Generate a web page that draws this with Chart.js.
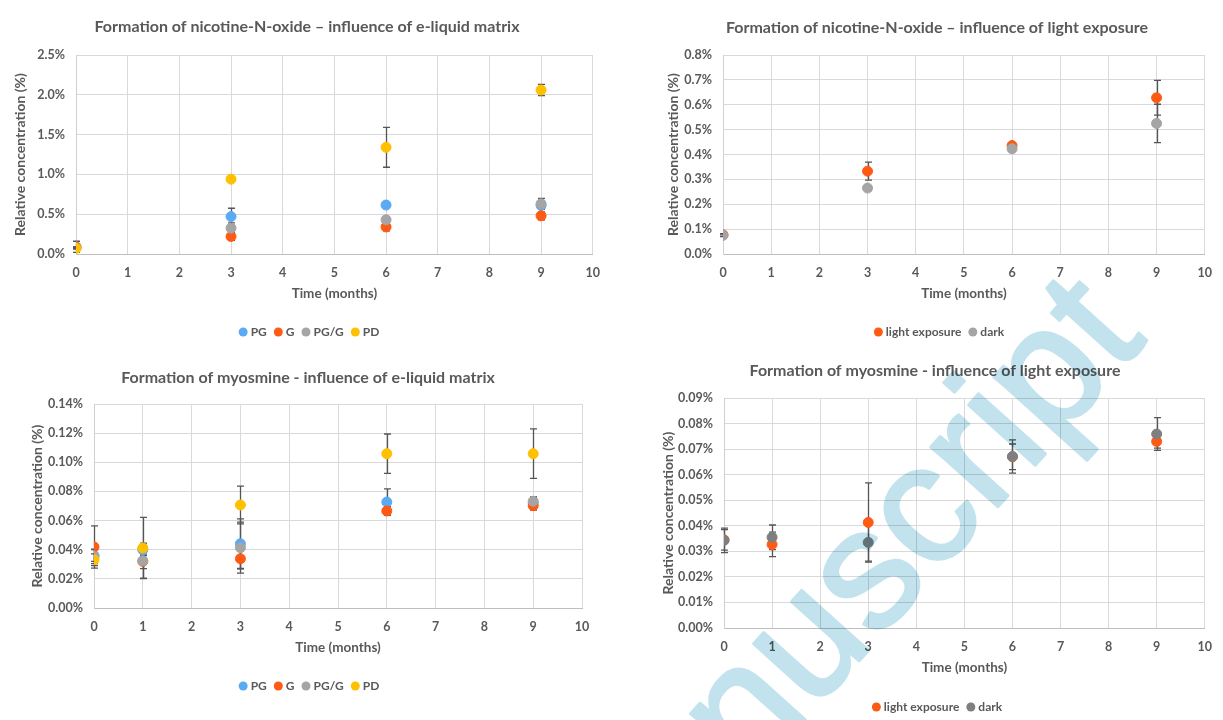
<!DOCTYPE html>
<html>
<head>
<meta charset="utf-8">
<script src="https://cdn.jsdelivr.net/npm/chart.js@4.4.1/dist/chart.umd.min.js"></script>
<style>
  html, body { margin: 0; padding: 0; background: #fff; }
  #page { position: relative; width: 1223px; height: 720px; overflow: hidden; background: #fff; }
  .panel { position: absolute; }
  #mark { position: absolute; left: 0; top: 0; mix-blend-mode: multiply; pointer-events: none; }
</style>
</head>
<body>
<div id="page">
  <canvas id="c1" class="panel" width="611" height="360" style="left:0px;top:0px"></canvas>
  <canvas id="c2" class="panel" width="570" height="360" style="left:653px;top:0px"></canvas>
  <canvas id="c3" class="panel" width="594" height="370" style="left:17px;top:350px"></canvas>
  <canvas id="c4" class="panel" width="575" height="370" style="left:648px;top:350px"></canvas>
  <canvas id="mark" width="1223" height="720"></canvas>
</div>
<script>
// ---- sampling times (months) ----
const monthsNNO = [0, 3, 6, 9];
const monthsMyo = [0, 1, 3, 6, 9];

// ---- nicotine-N-oxide, e-liquid matrix (% relative concentration, mean and SD) ----
const nnoPG      = [0.08, 0.47, 0.615, 0.61];
const nnoG       = [0.09, 0.22, 0.34, 0.48];
const nnoPGG     = [0.08, 0.325, 0.43, 0.63];
const nnoPD      = [0.07, 0.94, 1.34, 2.06];
const nnoPGErr   = [0.01, 0.105, 0.02, 0.03];
const nnoGErr    = [0.07, 0.05, 0.05, 0.05];
const nnoPGGErr  = [0.01, 0.065, 0.02, 0.07];
const nnoPDErr   = [0.01, 0.01, 0.25, 0.07];

// ---- nicotine-N-oxide, light exposure ----
const nnoLight    = [0.077, 0.333, 0.436, 0.628];
const nnoDark     = [0.075, 0.265, 0.423, 0.525];
const nnoLightErr = [0.005, 0.036, 0.01, 0.07];
const nnoDarkErr  = [0.005, 0.01, 0.01, 0.077];

// ---- myosmine, e-liquid matrix ----
const myoPG      = [0.036, 0.040, 0.0441, 0.0727, 0.072];
const myoG       = [0.0419, 0.032, 0.0338, 0.0666, 0.0702];
const myoPGG     = [0.0354, 0.0325, 0.0414, null, 0.0732];
const myoPD      = [0.0331, 0.0412, 0.0707, 0.1059, 0.1059];
const myoPGErr   = [0.004, 0.004, 0.017, 0.009, 0.004];
const myoGErr    = [0.0145, 0.005, 0.007, 0.003, 0.003];
const myoPGGErr  = [0.005, 0.012, 0.0175, null, 0.003];
const myoPDErr   = [0.004, 0.021, 0.013, 0.0135, 0.017];

// ---- myosmine, light exposure ----
const myoLight    = [0.0345, 0.0327, 0.0413, 0.067, 0.073];
const myoDark     = [0.0343, 0.0355, 0.0335, 0.0671, 0.0759];
const myoLightErr = [0.004, 0.0048, 0.0155, 0.005, 0.0026];
const myoDarkErr  = [0.0048, 0.0048, 0.0073, 0.0065, 0.0064];

// ---- labels ----
const matrixLabels = ['PG', 'G', 'PG/G', 'PD'];
const lightLabels  = ['light exposure', 'dark'];
const chartTitles = [
  'Formation of nicotine-N-oxide \u2013 influence of e-liquid matrix',
  'Formation of nicotine-N-oxide \u2013 influence of light exposure',
  'Formation of myosmine - influence of e-liquid matrix',
  'Formation of myosmine - influence of light exposure'
];
const xTitle = 'Time (months)';
const yTitle = 'Relative concentration (%)';

// ---- styling ----
const TEXT = '#595959';
const C_PG = '#5aaaf4', C_G = '#ff5a14', C_PGG = '#a5a5a5', C_PD = '#ffc000', C_DARK2 = '#7f7f7f';
Chart.defaults.font.family = 'Lato';
Chart.defaults.color = TEXT;

function points(xs, ys, errs) {
  return xs.map((m, i) => ({ x: m, y: ys[i], err: errs[i] })).filter(p => p.y !== null);
}

function series(label, xs, ys, errs, color, order) {
  return {
    label, order,
    data: points(xs, ys, errs),
    backgroundColor: color, borderColor: color,
    pointRadius: 5, pointHoverRadius: 5, borderWidth: 1, showLine: false
  };
}

// vertical error bars with caps, drawn underneath the markers
const errorBars = {
  id: 'errorBars',
  beforeDatasetsDraw(chart) {
    const { ctx, scales: { x, y } } = chart;
    ctx.save();
    ctx.strokeStyle = '#555555';
    ctx.lineWidth = 1.3;
    chart.data.datasets.forEach((ds, i) => {
      if (!chart.isDatasetVisible(i)) return;
      ds.data.forEach(p => {
        if (p.err == null) return;
        const px = Math.round(x.getPixelForValue(p.x)) + 0.5;
        const t = y.getPixelForValue(p.y + p.err);
        const b = y.getPixelForValue(p.y - p.err);
        ctx.beginPath();
        ctx.moveTo(px, t); ctx.lineTo(px, b);
        ctx.moveTo(px - 3.5, t); ctx.lineTo(px + 3.5, t);
        ctx.moveTo(px - 3.5, b); ctx.lineTo(px + 3.5, b);
        ctx.stroke();
      });
    });
    ctx.restore();
  }
};

// chart title and bottom legend
const panelText = {
  id: 'panelText',
  afterDraw(chart, args, opts) {
    const ctx = chart.ctx;
    ctx.save();
    ctx.fillStyle = TEXT;
    ctx.textBaseline = 'middle';
    ctx.textAlign = 'center';
    ctx.font = 'bold 16px Lato';
    ctx.fillText(opts.title, opts.titleX, opts.titleY);

    ctx.font = 'bold 12px Lato';
    ctx.textAlign = 'left';
    const r = 4.5, gap = 3, itemGap = 7;
    const items = chart.data.datasets.map(d => ({
      label: d.label, color: d.backgroundColor, w: ctx.measureText(d.label).width
    }));
    const total = items.reduce((s, it) => s + 2 * r + gap + it.w, 0) + itemGap * (items.length - 1);
    let cx = opts.legendX - total / 2;
    items.forEach(it => {
      ctx.fillStyle = it.color;
      ctx.beginPath();
      ctx.arc(cx + r, opts.legendY, r, 0, Math.PI * 2);
      ctx.fill();
      ctx.fillStyle = TEXT;
      ctx.fillText(it.label, cx + 2 * r + gap, opts.legendY + 0.5);
      cx += 2 * r + gap + it.w + itemGap;
    });
    ctx.restore();
  }
};

function makePanel(id, datasets, yMax, yStep, decimals, geo) {
  return new Chart(document.getElementById(id), {
    type: 'scatter',
    data: { datasets },
    plugins: [errorBars, panelText],
    options: {
      responsive: false,
      animation: false,
      devicePixelRatio: 1,
      layout: { padding: geo.padding },
      plugins: {
        legend: { display: false },
        title: { display: false },
        tooltip: { enabled: false },
        panelText: {
          title: geo.title, titleX: geo.titleX, titleY: geo.titleY,
          legendX: geo.legendX, legendY: geo.legendY
        }
      },
      scales: {
        x: {
          type: 'linear', min: 0, max: 10,
          afterFit: s => { s.height = 48; },
          grid: { color: '#d9d9d9', drawTicks: false },
          border: { color: '#bfbfbf' },
          ticks: { stepSize: 1, padding: 11, color: TEXT, font: { size: 12.5, weight: 'bold' } },
          title: { display: true, text: xTitle, color: TEXT, padding: 0, font: { size: 13.5, weight: 'bold' } }
        },
        y: {
          type: 'linear', min: 0, max: yMax,
          afterFit: s => { s.width = geo.yWidth; },
          grid: { color: '#d9d9d9', drawTicks: false },
          border: { color: '#d0d0d0' },
          ticks: {
            stepSize: yStep, padding: 11, color: TEXT, font: { size: 12.5, weight: 'bold' },
            callback: v => v.toFixed(decimals) + '%'
          },
          title: { display: true, text: yTitle, color: TEXT, padding: { top: 12, bottom: 0 }, font: { size: 14, weight: 'bold' } }
        }
      }
    }
  });
}

makePanel('c1', [
  series(matrixLabels[0], monthsNNO, nnoPG, nnoPGErr, C_PG, 4),
  series(matrixLabels[1], monthsNNO, nnoG, nnoGErr, C_G, 3),
  series(matrixLabels[2], monthsNNO, nnoPGG, nnoPGGErr, C_PGG, 2),
  series(matrixLabels[3], monthsNNO, nnoPD, nnoPDErr, C_PD, 1)
], 2.5, 0.5, 1, {
  padding: { left: 0, top: 55, right: 18, bottom: 58 }, yWidth: 76,
  title: chartTitles[0], titleX: 307, titleY: 27, legendX: 309, legendY: 332
});

makePanel('c2', [
  series(lightLabels[0], monthsNNO, nnoLight, nnoLightErr, C_G, 2),
  series(lightLabels[1], monthsNNO, nnoDark, nnoDarkErr, C_PGG, 1)
], 0.8, 0.1, 1, {
  padding: { left: 0, top: 55, right: 18, bottom: 58 }, yWidth: 70,
  title: chartTitles[1], titleX: 284, titleY: 28, legendX: 286, legendY: 332
});

makePanel('c3', [
  series(matrixLabels[0], monthsMyo, myoPG, myoPGErr, C_PG, 4),
  series(matrixLabels[1], monthsMyo, myoG, myoGErr, C_G, 3),
  series(matrixLabels[2], monthsMyo, myoPGG, myoPGGErr, C_PGG, 2),
  series(matrixLabels[3], monthsMyo, myoPD, myoPDErr, C_PD, 1)
], 0.14, 0.02, 2, {
  padding: { left: 0, top: 54, right: 29, bottom: 64 }, yWidth: 77,
  title: chartTitles[2], titleX: 291, titleY: 28, legendX: 292, legendY: 336
});

makePanel('c4', [
  series(lightLabels[0], monthsMyo, myoLight, myoLightErr, C_G, 2),
  series(lightLabels[1], monthsMyo, myoDark, myoDarkErr, C_DARK2, 1)
], 0.09, 0.01, 2, {
  padding: { left: 0, top: 48, right: 16, bottom: 44 }, yWidth: 76,
  title: chartTitles[3], titleX: 287, titleY: 21, legendX: 289, legendY: 357
});

// diagonal "Manuscript" stamp across the lower right of the page
(function () {
  const mk = document.getElementById('mark').getContext('2d');
  mk.save();
  mk.translate(1148, 340);
  mk.rotate(-48 * Math.PI / 180);
  mk.font = '170px "Liberation Sans"';
  mk.textAlign = 'right';
  mk.textBaseline = 'alphabetic';
  mk.fillStyle = '#c2e2ed';
  mk.strokeStyle = '#c2e2ed';
  mk.lineWidth = 3;
  mk.lineJoin = 'round';
  mk.fillText('Manuscript', 0, 0);
  mk.strokeText('Manuscript', 0, 0);
  mk.restore();
})();
</script>
</body>
</html>
